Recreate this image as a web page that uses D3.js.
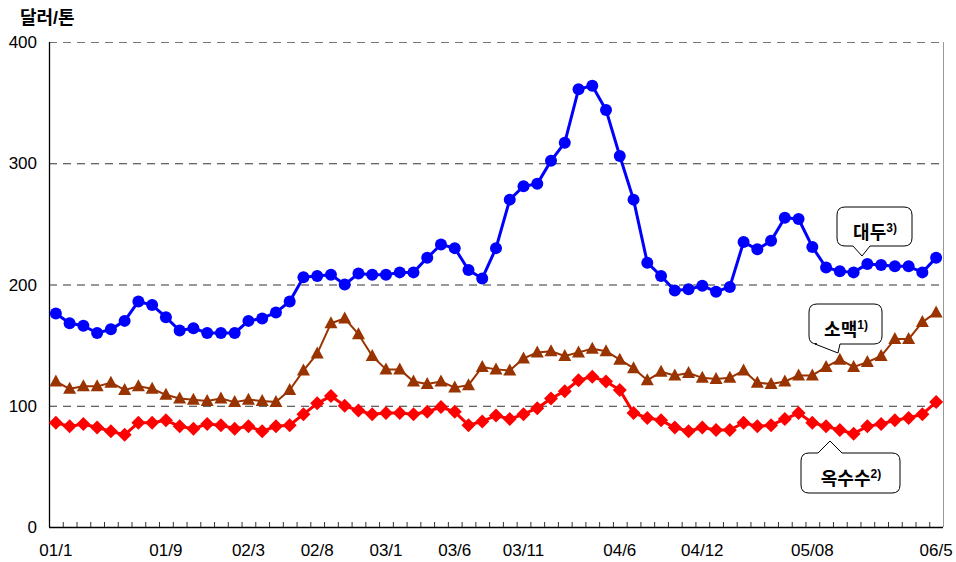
<!DOCTYPE html>
<html>
<head>
<meta charset="utf-8">
<script src="https://cdn.jsdelivr.net/npm/d3@7"></script>
<style>
  body { margin: 0; background: #fff; }
  svg { font-family: "Liberation Sans", Arial, "Noto Sans CJK KR", sans-serif; }
</style>
</head>
<body>
<div id="chart"></div>
<script>
// monthly categories, 2001/1 .. 2006/5
var months = [
  "01/1","01/2","01/3","01/4","01/5","01/6","01/7","01/8","01/9","01/10","01/11","01/12",
  "02/1","02/2","02/3","02/4","02/5","02/6","02/7","02/8","02/9","02/10","02/11","02/12",
  "03/1","03/2","03/3","03/4","03/5","03/6","03/7","03/8","03/9","03/10","03/11","03/12",
  "04/1","04/2","04/3","04/4","04/5","04/6","04/7","04/8","04/9","04/10","04/11","04/12",
  "05/1","05/2","05/3","05/4","05/5","05/6","05/7","05/08","05/9","05/10","05/11","05/12",
  "06/1","06/2","06/3","06/4","06/5"
];
var shownLabels = ["01/1","01/9","02/3","02/8","03/1","03/6","03/11","04/6","04/12","05/08","06/5"];
var yTicks = [0, 100, 200, 300, 400];

// 대두 (soybean)
var soybean = [
  176, 168, 166, 160, 163, 170, 186, 183, 173, 162, 164, 160,
  160, 160, 170, 172, 177, 186, 206, 207, 208, 200, 209, 208,
  208, 210, 210, 222, 233, 230, 212, 205, 230, 270, 281, 283,
  302, 317, 361, 364, 344, 306, 270, 218, 207, 195, 196, 199,
  194, 198, 235, 229, 236, 255, 254, 231, 214, 211, 210, 217,
  216, 215, 215, 210, 222
];
// 소맥 (wheat)
var wheat = [
  120, 114, 116, 116, 119, 113, 116, 114, 109, 106, 105, 104,
  106, 103, 105, 104, 103, 113, 129, 143, 168, 172, 159, 141,
  130, 130, 120, 118, 120, 115, 117, 132, 130, 129, 139, 144,
  145, 141, 144, 147, 145, 138, 131, 121, 128, 125, 127, 123,
  122, 123, 129, 119, 118, 120, 125, 125, 132, 138, 132, 136,
  141, 155, 155, 169, 177
];
// 옥수수 (corn)
var corn = [
  86, 83, 85, 82, 79, 76, 86, 86, 88, 83, 81, 85,
  84, 81, 83, 79, 83, 84, 93, 102, 108, 100, 96, 93,
  94, 94, 93, 95, 99, 95, 84, 87, 92, 89, 93, 98,
  106, 112, 121, 124, 120, 113, 94, 90, 88, 82, 79, 82,
  80, 80, 86, 83, 84, 89, 94, 86, 83, 80, 77, 83,
  85, 88, 90, 93, 103
];

var width = 956, height = 562;
var margin = { top: 42, right: 13, bottom: 35, left: 49 };

var svg = d3.select("#chart").append("svg")
  .attr("width", width)
  .attr("height", height);

var x = d3.scaleBand()
  .domain(months)
  .range([margin.left, width - margin.right])
  .paddingInner(0).paddingOuter(0);

var y = d3.scaleLinear()
  .domain([0, 400])
  .range([height - margin.bottom, margin.top]);

var cx = d => x(d) + x.bandwidth() / 2;

// gridlines
svg.append("g")
  .selectAll("line")
  .data(yTicks.filter(d => d > 0))
  .join("line")
  .attr("x1", margin.left)
  .attr("x2", width - margin.right)
  .attr("y1", d => y(d) + 0.5)
  .attr("y2", d => y(d) + 0.5)
  .attr("stroke", d => d == 400 ? "#777" : "#333")
  .attr("stroke-width", 1)
  .attr("stroke-dasharray", "8,6");

// right border
svg.append("line")
  .attr("x1", width - margin.right + 0.5).attr("x2", width - margin.right + 0.5)
  .attr("y1", y(400)).attr("y2", y(0))
  .attr("stroke", "#999");

// left axis line + labels
svg.append("line")
  .attr("x1", margin.left + 0.5).attr("x2", margin.left + 0.5)
  .attr("y1", y(400)).attr("y2", y(0))
  .attr("stroke", "#000").attr("stroke-width", 1.3);

svg.append("g")
  .attr("font-size", 17)
  .attr("text-anchor", "end")
  .selectAll("text")
  .data(yTicks)
  .join("text")
  .attr("x", 37)
  .attr("y", d => y(d))
  .attr("dy", "0.36em")
  .text(d => d);

svg.append("text")
  .attr("x", 20).attr("y", 24)
  .attr("font-size", 18)
  .attr("font-weight", "bold")
  .text("달러/톤");

// bottom axis: ticks at band boundaries, pointing up
var xAxis = svg.append("g")
  .attr("transform", `translate(0,${y(0)})`);

xAxis.append("line")
  .attr("x1", margin.left).attr("x2", width - margin.right)
  .attr("y1", 0.5).attr("y2", 0.5)
  .attr("stroke", "#000").attr("stroke-width", 1.3);

xAxis.append("g")
  .selectAll("line")
  .data(months.slice(1))
  .join("line")
  .attr("x1", d => x(d) + 0.5)
  .attr("x2", d => x(d) + 0.5)
  .attr("y1", 0).attr("y2", -5)
  .attr("stroke", "#333");

xAxis.append("g")
  .attr("font-size", 17)
  .attr("text-anchor", "middle")
  .selectAll("text")
  .data(shownLabels)
  .join("text")
  .attr("x", cx)
  .attr("y", 29)
  .text(d => d);

// series
var line = d3.line()
  .x((d, i) => cx(months[i]))
  .y(d => y(d));

var drawSeries = function(data, color, lw) {
  svg.append("path")
    .datum(data)
    .attr("fill", "none")
    .attr("stroke", color)
    .attr("stroke-width", lw)
    .attr("stroke-linejoin", "round")
    .attr("d", line);
}

drawSeries(soybean, "#0000ff", 3);
drawSeries(wheat, "#993300", 2);
drawSeries(corn, "#ff0000", 3);

svg.append("g")
  .attr("fill", "#0000ff")
  .selectAll("circle")
  .data(soybean)
  .join("circle")
  .attr("cx", (d, i) => cx(months[i]))
  .attr("cy", d => y(d))
  .attr("r", 6);

svg.append("g")
  .attr("fill", "#993300")
  .selectAll("path")
  .data(wheat)
  .join("path")
  .attr("transform", (d, i) => `translate(${cx(months[i])},${y(d)})`)
  .attr("d", "M0,-7L6.5,5L-6.5,5Z");

svg.append("g")
  .attr("fill", "#ff0000")
  .selectAll("path")
  .data(corn)
  .join("path")
  .attr("transform", (d, i) => `translate(${cx(months[i])},${y(d)})`)
  .attr("d", "M0,-7L7,0L0,7L-7,0Z");

// callouts
var r = 8;
var callout = function(x0, y0, x1, y1, w0, w1, tx, ty, top) {
  var p = d3.path();
  p.moveTo(x0 + r, y0);
  if (top) { p.lineTo(w0, y0); p.lineTo(tx, ty); p.lineTo(w1, y0); }
  p.lineTo(x1 - r, y0);
  p.quadraticCurveTo(x1, y0, x1, y0 + r);
  p.lineTo(x1, y1 - r);
  p.quadraticCurveTo(x1, y1, x1 - r, y1);
  if (!top) { p.lineTo(w1, y1); p.lineTo(tx, ty); p.lineTo(w0, y1); }
  p.lineTo(x0 + r, y1);
  p.quadraticCurveTo(x0, y1, x0, y1 - r);
  p.lineTo(x0, y0 + r);
  p.quadraticCurveTo(x0, y0, x0 + r, y0);
  p.closePath();
  svg.append("path")
    .attr("d", p.toString())
    .attr("fill", "#fff")
    .attr("stroke", "#000")
    .attr("stroke-width", 1);
}

var calloutText = function(cxp, by, name, sup) {
  var t = svg.append("text")
    .attr("x", cxp).attr("y", by)
    .attr("text-anchor", "middle")
    .attr("font-size", 18)
    .attr("font-weight", "bold");
  t.append("tspan").text(name);
  t.append("tspan").attr("font-size", 12).attr("dy", -7).text(sup);
}

callout(837, 207, 912, 246, 853, 870, 862, 256, false);
calloutText(875, 239, "대두", "3)");

callout(809, 304, 882, 344, 815, 840, 838, 353, false);
calloutText(846, 336, "소맥", "1)");

callout(801, 453, 900, 493, 818, 842, 830, 441, true);
calloutText(851, 485, "옥수수", "2)");
</script>
</body>
</html>
